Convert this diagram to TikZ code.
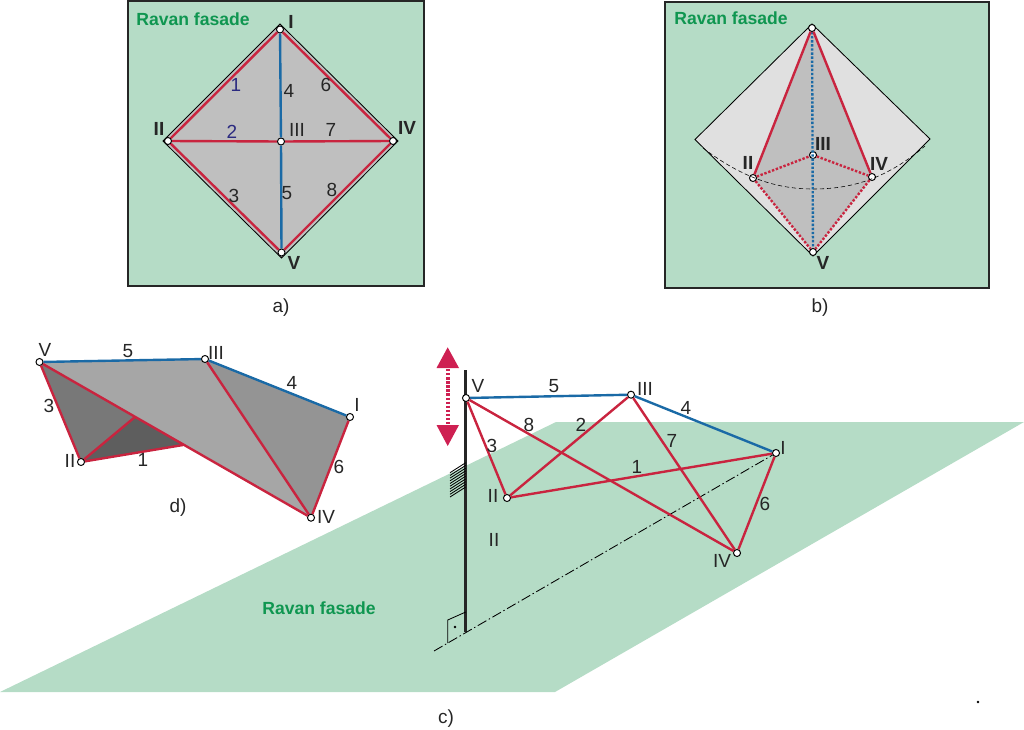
\documentclass[tikz,border=0pt]{standalone}
\usepackage{fontspec}
\setmainfont{Liberation Sans}
\usetikzlibrary{calc}
\definecolor{planegreen}{HTML}{B5DCC6}
\definecolor{titlegreen}{HTML}{0F9650}
\definecolor{edgered}{HTML}{C9243F}
\definecolor{edgeblue}{HTML}{1A6AA6}
\definecolor{numblue}{HTML}{2B2A80}
\tikzset{
vertex/.style={circle, draw=black, fill=white, line width=0.7pt, inner sep=0pt, minimum size=5pt},
lbl/.style={inner sep=0pt, text=black!85, font=\fontsize{13.5}{15}\selectfont},
blbl/.style={lbl, font=\fontsize{13.5}{15}\selectfont\bfseries},
numlbl/.style={lbl, text=numblue},
title/.style={inner sep=0pt, text=titlegreen, font=\fontsize{12.5}{14}\selectfont\bfseries},
frame/.style={draw=black!85, line width=1.7pt, fill=planegreen},
redline/.style={draw=edgered, line width=1.7pt},
blueline/.style={draw=edgeblue, line width=1.7pt},
reddash/.style={draw=edgered, line width=1.7pt, dash pattern=on 1.7pt off 1.2pt},
bluedash/.style={draw=edgeblue, line width=1.7pt, dash pattern=on 1.7pt off 1.2pt},
thinline/.style={draw=black, line width=0.6pt},
}
\begin{document}
\begin{tikzpicture}[x=0.025cm, y=-0.025cm]
\useasboundingbox (0,0) rectangle (1024,729);

%plane c
\fill[planegreen] (0,692) -- (555,692) -- (1024,422) -- (556,422) -- cycle;

%frame a
\draw[frame] (128,1) rectangle (424,286);
\draw[thinline, fill=black!25] (280,24) -- (398,141) -- (281.5,258) -- (163,141) -- cycle;
\node[vertex] (aI) at (280,29.5) {};
\node[vertex] (aII) at (168,141) {};
\node[vertex] (aIII) at (281,141.5) {};
\node[vertex] (aIV) at (393,141) {};
\node[vertex] (aV) at (281.5,252.5) {};
\draw[redline] (aI) -- (aII);
\draw[redline] (aI) -- (aIV);
\draw[redline] (aII) -- (aV);
\draw[redline] (aIV) -- (aV);
\draw[redline] (aII) -- (aIII);
\draw[redline] (aIII) -- (aIV);
\draw[blueline] (aI) -- (aIII);
\draw[blueline] (aIII) -- (aV);
\node[title] (atitle) at (193,19) {Ravan fasade};
\node[blbl] (alI) at (291,22) {I};
\node[blbl] (alII) at (159,129) {II};
\node[lbl] (alIII) at (297,130) {III};
\node[blbl] (alIV) at (407,128) {IV};
\node[blbl] (alV) at (294,263) {V};
\node[numlbl] (a1) at (236,85) {1};
\node[numlbl] (a2) at (232,132) {2};
\node[lbl] (a3) at (234,196) {3};
\node[lbl] (a4) at (289,91) {4};
\node[lbl] (a5) at (287,193) {5};
\node[lbl] (a6) at (326,85) {6};
\node[lbl] (a7) at (331,130) {7};
\node[lbl] (a8) at (332,190) {8};
\node[lbl] (acap) at (281,308) {a)};

%frame b
\draw[frame] (665,2) rectangle (989,288);
\draw[thinline, fill=black!12] (812,24) -- (930,139) -- (813,256) -- (695,139.5) -- cycle;
\fill[black!25] (812,28) -- (872,177) -- (813,252) -- (753,178) -- cycle;
\node[vertex] (bI) at (812,28) {};
\node[vertex] (bII) at (753,178) {};
\node[vertex] (bIII) at (813,155) {};
\node[vertex] (bIV) at (872,177) {};
\node[vertex] (bV) at (813,252) {};
\coordinate (bleft) at (703,148);
\coordinate (bright) at (925,146);
\draw[thinline, densely dashed, line width=0.4pt] (bleft) .. controls (745,180) and (780,189) .. (813,189) .. controls (850,189) and (885,180) .. (bright);
\draw[bluedash] (bI) -- (bV);
\draw[redline] (bI) -- (bII);
\draw[redline] (bI) -- (bIV);
\draw[reddash] (bII) -- (bIII);
\draw[reddash] (bIII) -- (bIV);
\draw[reddash] (bII) -- (bV);
\draw[reddash] (bIV) -- (bV);
\node[title] (btitle) at (731,18) {Ravan fasade};
\node[blbl] (blII) at (748,163) {II};
\node[blbl] (blIII) at (823,144) {III};
\node[blbl] (blIV) at (879,164) {IV};
\node[blbl] (blV) at (823,263) {V};
\node[lbl] (bcap) at (820,308) {b)};

%figure d
\coordinate (dA) at (135,417);
\coordinate (dB) at (183,445);
\fill[black!53] (39.5,362) -- (81,462) -- (dA) -- cycle;
\fill[black!63] (81,462) -- (dA) -- (dB) -- cycle;
\fill[black!35] (39.5,362) -- (205,359) -- (311,517.7) -- cycle;
\fill[black!42] (205,359) -- (350,417) -- (311,517.7) -- cycle;
\node[vertex] (dI) at (350,417) {};
\node[vertex] (dII) at (81,462) {};
\node[vertex] (dIII) at (205,359) {};
\node[vertex] (dIV) at (311,517.7) {};
\node[vertex] (dV) at (39.5,362) {};
\draw[blueline] (dV) -- (dIII);
\draw[blueline] (dIII) -- (dI);
\draw[redline] (dV) -- (dII);
\draw[redline] (dV) -- (dIV);
\draw[redline] (dII) -- (dA);
\draw[redline] (dII) -- (dB);
\draw[redline] (dIII) -- (dIV);
\draw[redline] (dI) -- (dIV);
\node[lbl] (dlV) at (45,350) {V};
\node[lbl] (d5) at (128,351) {5};
\node[lbl] (dlIII) at (216,353) {III};
\node[lbl] (d4) at (292,383) {4};
\node[lbl] (dlI) at (357,405) {I};
\node[lbl] (d3) at (49,406) {3};
\node[lbl] (dlII) at (70,461) {II};
\node[lbl] (d1) at (143,460) {1};
\node[lbl] (d6) at (339,467) {6};
\node[lbl] (dlIV) at (326,517) {IV};
\node[lbl] (dcap) at (178,508) {d)};

%figure c
\coordinate (ctop) at (465.7,370);
\coordinate (cfoot) at (465.7,632);
\coordinate (cend) at (434,651);
\draw[draw=black!85, line width=1.8pt] (ctop) -- (cfoot);
\foreach \i in {0,...,9} {
\draw[thinline] (465.7,462.7+2.7*\i) -- (450,472.7+2.7*\i);
}
\draw[thinline] (447.7,643) -- (447.7,620) -- (465.7,612);
\node[circle, fill=black, inner sep=0pt, minimum size=2pt] (cmark) at (455,627) {};
\node[vertex] (cI) at (776,453) {};
\node[vertex] (cII) at (507,498) {};
\node[vertex] (cIII) at (631,394.7) {};
\node[vertex] (cIV) at (737,553) {};
\node[vertex] (cV) at (466,398) {};
\draw[thinline, dash pattern=on 7pt off 2pt on 1pt off 2pt] (cend) -- (cI);
\draw[blueline] (cV) -- (cIII);
\draw[blueline] (cIII) -- (cI);
\draw[redline] (cV) -- (cII);
\draw[redline] (cV) -- (cIV);
\draw[redline] (cII) -- (cIII);
\draw[redline] (cII) -- (cI);
\draw[redline] (cIII) -- (cIV);
\draw[redline] (cI) -- (cIV);

%arrow c
\fill[edgered!90!magenta] (447.7,347.3) -- (459,368) -- (436.5,368) -- cycle;
\fill[edgered!90!magenta] (447.7,446) -- (459,425) -- (436.5,425) -- cycle;
\coordinate (carrowtop) at (447.7,369);
\coordinate (carrowbot) at (447.7,425);
\draw[edgered!90!magenta, line width=3pt, dash pattern=on 1.7pt off 1.2pt] (carrowtop) -- (carrowbot);

\node[lbl] (clV) at (478,386) {V};
\node[lbl] (c5) at (554,386) {5};
\node[lbl] (clIII) at (645,389) {III};
\node[lbl] (c4) at (686,408) {4};
\node[lbl] (clI) at (783,448) {I};
\node[lbl] (c8) at (529,425) {8};
\node[lbl] (c2) at (581,425) {2};
\node[lbl] (c3) at (492,446) {3};
\node[lbl] (c7) at (672,441) {7};
\node[lbl] (c1) at (637,467) {1};
\node[lbl] (c6) at (765,504) {6};
\node[lbl] (clII) at (493,496) {II};
\node[lbl] (cplane) at (494,540) {II};
\node[lbl] (clIV) at (722,561) {IV};
\node[title] (ctitle) at (319,608) {Ravan fasade};
\node[lbl] (ccap) at (446,719) {c)};
\node[circle, fill=black, inner sep=0pt, minimum size=2pt] (speck) at (978,702) {};
\end{tikzpicture}
\end{document}
